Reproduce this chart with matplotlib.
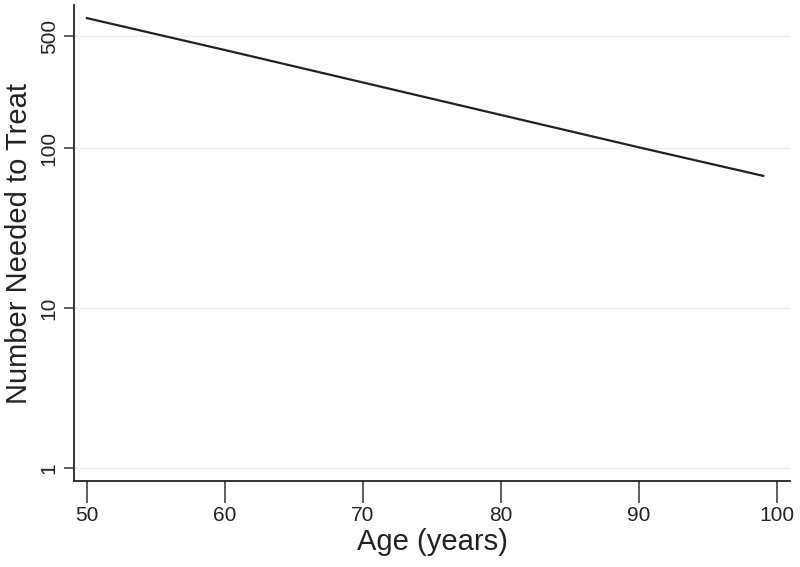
import matplotlib
matplotlib.use('Agg')
from matplotlib import pyplot as plt

# NNT by age (log scale)
age = [50, 60, 70, 80, 90, 99]
nnt = [649, 410, 257, 161, 101, 67]

y_ticks = [1, 10, 100, 500]
x_ticks = [50, 60, 70, 80, 90, 100]

plt.rcParams['font.family'] = ['Liberation Sans', 'DejaVu Sans']

fig = plt.figure(figsize=(8, 5.67), dpi=100)
ax = fig.add_axes([0.0925, 0.1517, 0.895, 0.8393])

ax.plot(age, nnt, color='#222222', linewidth=1.6)

ax.set_yscale('log')
ax.set_xlim(49.06, 100.94)
ax.set_ylim(0.829, 783)

ax.set_yticks(y_ticks)
ax.set_yticklabels([str(t) for t in y_ticks], rotation=90, va='center')
ax.yaxis.set_minor_locator(matplotlib.ticker.NullLocator())
ax.set_xticks(x_ticks)

for t in y_ticks:
    ax.axhline(t, color='#eeeeee', linewidth=1.0, zorder=0)

ax.spines['top'].set_visible(False)
ax.spines['right'].set_visible(False)
ax.spines['left'].set_linewidth(1.3)
ax.spines['bottom'].set_linewidth(1.3)
ax.spines['left'].set_color('#222222')
ax.spines['bottom'].set_color('#222222')

ax.tick_params(axis='x', length=16, width=1.1, color='#333333', labelsize=15, labelcolor='#222222', pad=2)
ax.tick_params(axis='y', length=7, width=1.1, color='#333333', labelsize=15, labelcolor='#222222', pad=4)

ax.set_xlabel('Age (years)', fontsize=21, color='#222222', labelpad=2)
ax.set_ylabel('Number Needed to Treat', fontsize=21, color='#222222', labelpad=5)

fig.savefig('out.png', dpi=100)
